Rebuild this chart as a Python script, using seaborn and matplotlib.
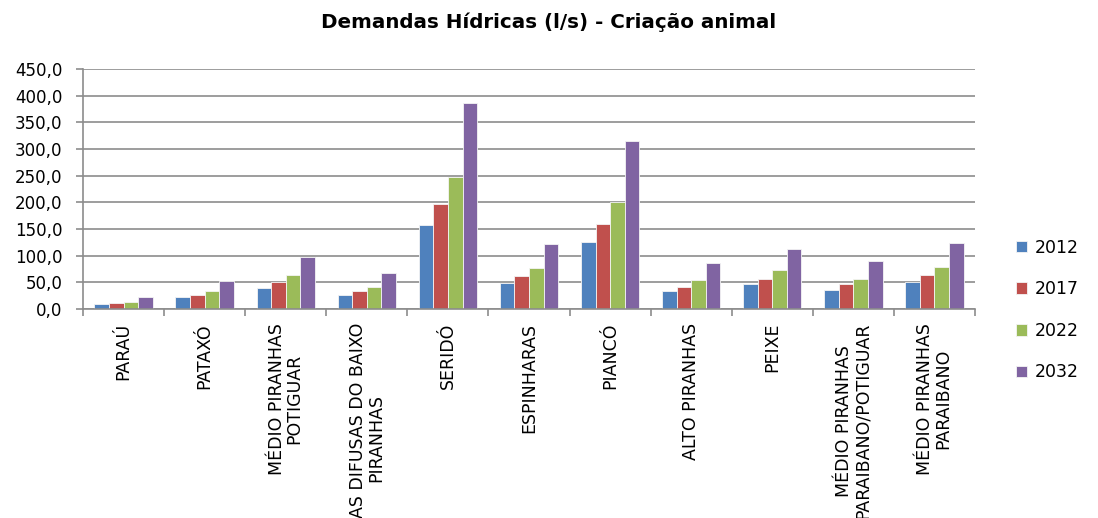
import matplotlib as mpl
mpl.use("Agg")
import matplotlib.pyplot as plt
import seaborn as sns
import pandas as pd
import numpy as np
from matplotlib.ticker import FixedLocator, FuncFormatter

## --------------- DADOS ------------- ##

regioes = ["PARAÚ", "PATAXÓ", "MÉDIO PIRANHAS\nPOTIGUAR", "ÁREAS DIFUSAS DO BAIXO\nPIRANHAS",
           "SERIDÓ", "ESPINHARAS", "PIANCÓ", "ALTO PIRANHAS", "PEIXE",
           "MÉDIO PIRANHAS\nPARAIBANO/POTIGUAR", "MÉDIO PIRANHAS\nPARAIBANO"]
anos = ["2012", "2017", "2022", "2032"]

d2012 = [8.7, 21.8, 39.2, 26.2, 157.0, 49.2, 126.5, 33.0, 46.0, 35.5, 50.5]
d2017 = [10.6, 26.2, 50.5, 33.0, 197.0, 61.0, 159.5, 41.7, 56.7, 46.0, 62.9]
d2022 = [13.1, 33.0, 62.9, 41.7, 246.7, 76.6, 200.6, 54.8, 72.3, 56.7, 78.5]
d2032 = [21.8, 53.0, 98.4, 67.9, 385.6, 122.0, 314.6, 85.4, 113.4, 89.7, 124.0]

cores = ["#4F81BD", "#C0504D", "#9BBB59", "#8064A2"]

df = pd.DataFrame({"regiao": regioes * 4,
                   "ano": np.repeat(anos, len(regioes)),
                   "valor": d2012 + d2017 + d2022 + d2032})

## --------------- GRAFICO ------------- ##

sns.set_style("white")
plt.rcParams['font.family'] = ['DejaVu Sans']
plt.rcParams['text.color'] = 'black'
plt.rcParams['xtick.color'] = 'black'
plt.rcParams['ytick.color'] = 'black'

fig = plt.figure(figsize=(10.98, 5.18), dpi=100)
ax = fig.add_axes([0.0756, 0.4035, 0.8124, 0.4633])

sns.barplot(data=df, x="regiao", y="valor", hue="ano", palette=cores, saturation=1,
            width=0.72, edgecolor="#f4f4f4", linewidth=0.6, ax=ax)

ax.set_ylim(0, 450)
ax.set_xlim(-0.5, len(regioes) - 0.5)
ax.set_yticks(np.arange(0, 451, 50))
ax.yaxis.set_major_formatter(FuncFormatter(lambda v, p: f"{v:.1f}".replace(".", ",")))
ax.yaxis.grid(True, color="#8c8c8c", linewidth=1.2)
ax.set_axisbelow(True)
ax.set_xlabel("")
ax.set_ylabel("")

ax.set_xticks(range(len(regioes)))
ax.set_xticklabels(regioes, rotation=90, va="top", ha="center", multialignment="center",
                   fontsize=12.5, linespacing=1.0)
ax.xaxis.set_minor_locator(FixedLocator(np.arange(-0.5, len(regioes), 1)))
ax.tick_params(axis="x", which="major", length=0, pad=10)
ax.tick_params(axis="x", which="minor", length=5, color="#8c8c8c", width=1.2, direction="out", bottom=True)
ax.tick_params(axis="y", labelsize=12, length=5, color="#8c8c8c", width=1.2, left=True, pad=10)

for lado in ["top", "right"]:
  ax.spines[lado].set_visible(False)
for lado in ["left", "bottom"]:
  ax.spines[lado].set_color("#8c8c8c")
  ax.spines[lado].set_linewidth(1.2)

ax.legend(loc="center left", bbox_to_anchor=(0.911, 0.4015), bbox_transform=fig.transFigure,
          frameon=False, fontsize=12.5, labelspacing=1.36, handlelength=0.65, handleheight=0.65,
          handletextpad=0.45)

fig.text(0.5, 0.9575, "Demandas Hídricas (l/s) - Criação animal", fontsize=14.3,
         fontweight="bold", ha="center", va="center")

plt.savefig("out.png", dpi=100)
